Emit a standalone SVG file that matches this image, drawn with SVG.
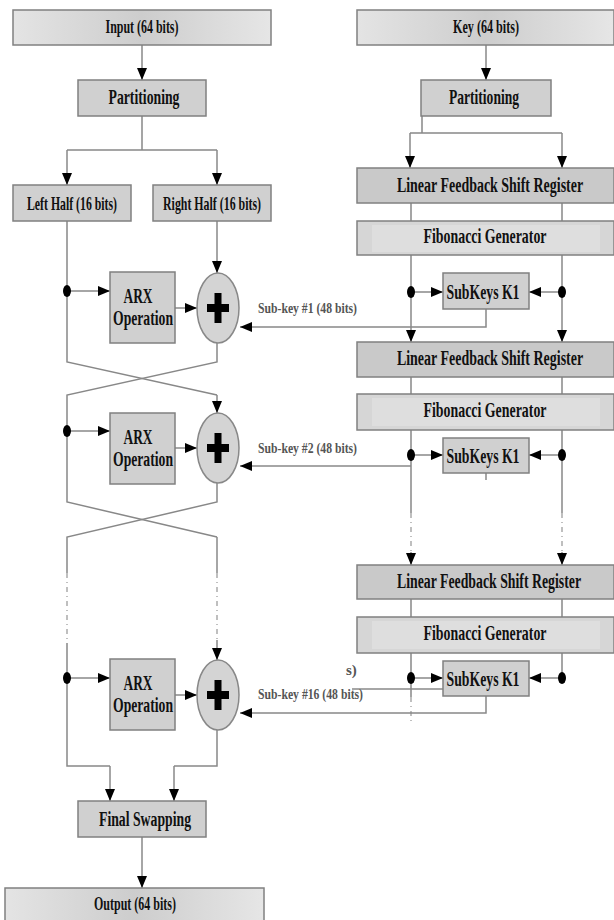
<svg xmlns="http://www.w3.org/2000/svg" width="614" height="920" viewBox="0 0 614 920">
<style>
.box{fill:#d0d0d0;stroke:#808080;stroke-width:1.5}
.lfsr{fill:#c9c9c9;stroke:#808080;stroke-width:1.5}
.fib{fill:#d6d6d6;stroke:#808080;stroke-width:1.5}
.fibin{fill:#dedede;stroke:none}
.io{fill:url(#g);stroke:#808080;stroke-width:1.5}
.t{font-family:"Liberation Serif","Times New Roman",serif;font-weight:bold;fill:#111;text-anchor:middle}
.lab{font-family:"Liberation Serif","Times New Roman",serif;font-weight:bold;fill:#555;font-size:15px}
.ln{fill:none;stroke:#888;stroke-width:1.5}
.ar{fill:none;stroke:#888;stroke-width:1.5;marker-end:url(#a)}
.dash{fill:none;stroke:#aaa;stroke-width:1.5;stroke-dasharray:5 4 1 4}
.dot{fill:#000}
.xor{fill:#d4d4d4;stroke:#888;stroke-width:1.5}
.plus{fill:#000}
</style>
<defs>
<linearGradient id="g" x1="0" y1="0" x2="1" y2="0">
<stop offset="0" stop-color="#e4e4e4"/>
<stop offset="0.5" stop-color="#cdcdcd"/>
<stop offset="1" stop-color="#e6e6e6"/>
</linearGradient>
<marker id="a" viewBox="0 0 12 10" refX="12" refY="5" markerWidth="12" markerHeight="10" markerUnits="userSpaceOnUse" orient="auto">
<path d="M0,0 L12,5 L0,10 z" fill="#000"/>
</marker>
</defs>

<g id="connectors">
<path class="ar" d="M142,45 V80"/>
<path class="ln" d="M142,116 V150 M67,150 H217"/>
<path class="ar" d="M67,150 V185"/>
<path class="ar" d="M217,150 V185"/>
<path class="ln" d="M67,221 V362 L217,395"/>
<path class="ar" d="M217,221 V273"/>
<path class="ar" d="M67,291 H110"/>
<path class="ar" d="M175,308 H197"/>
<path class="ln" d="M217,343 V362 L67,395 V502 L217,537"/>
<path class="ar" d="M217,395 V413"/>
<path class="ar" d="M67,431 H110"/>
<path class="ar" d="M175,448 H197"/>
<path class="ln" d="M217,483 V502 L67,537 V573"/>
<path class="ln" d="M217,537 V573"/>
<path class="dash" d="M67,573 V643"/>
<path class="dash" d="M217,573 V640"/>
<path class="ln" d="M67,643 V766 H110"/>
<path class="ar" d="M110,766 V801"/>
<path class="ar" d="M217,640 V660"/>
<path class="ar" d="M67,678 H110"/>
<path class="ar" d="M175,695 H197"/>
<path class="ln" d="M217,730 V766 H174"/>
<path class="ar" d="M174,766 V801"/>
<path class="ar" d="M142,837 V888"/>
<path class="ar" d="M486,45 V80"/>
<path class="ln" d="M422,116 V133 M410,133 H562"/>
<path class="ar" d="M410,133 V168"/>
<path class="ar" d="M562,133 V168"/>
<path class="ln" d="M411,203 V221 M562,203 V221"/>
<path class="ar" d="M411,255 V342"/>
<path class="ar" d="M562,255 V342"/>
<path class="ar" d="M411,292 H443"/>
<path class="ar" d="M562,292 H529"/>
<path class="ar" d="M486,309 V327 H240"/>
<path class="ln" d="M411,377 V394 M562,377 V394"/>
<path class="ln" d="M411,430 V513 M562,430 V513"/>
<path class="dash" d="M411,513 V552 M562,513 V552"/>
<path class="ar" d="M411,552 V565"/>
<path class="ar" d="M562,552 V565"/>
<path class="ar" d="M411,455 H443"/>
<path class="ar" d="M562,455 H529"/>
<path class="ar" d="M411,466 H240"/>
<path class="ln" d="M486,473 V480"/>
<path class="ln" d="M411,599 V617 M562,599 V617"/>
<path class="ln" d="M411,653 V697 M562,653 V678"/>
<path class="dash" d="M411,697 V724"/>
<path class="ar" d="M411,678 H443"/>
<path class="ar" d="M562,678 H529"/>
<path class="ln" d="M443,689 H352"/>
<path class="ar" d="M486,696 V713 H240"/>
</g>

<g id="input"><rect class="io" x="13" y="10" width="258" height="35"/><text class="t" x="142" y="33" font-size="19" textLength="73" lengthAdjust="spacingAndGlyphs">Input (64 bits)</text></g>
<g id="partition-l"><rect class="box" x="78" y="80" width="128" height="36"/><text class="t" x="144" y="104" font-size="22" textLength="71" lengthAdjust="spacingAndGlyphs">Partitioning</text></g>
<g id="left-half"><rect class="box" x="13" y="185" width="118" height="36"/><text class="t" x="72" y="210" font-size="19" textLength="90" lengthAdjust="spacingAndGlyphs">Left Half (16 bits)</text></g>
<g id="right-half"><rect class="box" x="153" y="185" width="118" height="36"/><text class="t" x="212" y="210" font-size="19" textLength="98" lengthAdjust="spacingAndGlyphs">Right Half (16 bits)</text></g>

<g id="dots">
<ellipse class="dot" cx="67" cy="291" rx="4" ry="6"/>
<ellipse class="dot" cx="67" cy="431" rx="4" ry="6"/>
<ellipse class="dot" cx="67" cy="678" rx="4" ry="6"/>
<ellipse class="dot" cx="411" cy="292" rx="4" ry="6"/>
<ellipse class="dot" cx="562" cy="292" rx="4" ry="6"/>
<ellipse class="dot" cx="411" cy="455" rx="4" ry="6"/>
<ellipse class="dot" cx="562" cy="455" rx="4" ry="6"/>
<ellipse class="dot" cx="411" cy="678" rx="4" ry="6"/>
<ellipse class="dot" cx="562" cy="678" rx="4" ry="6"/>
</g>

<g id="arx1"><rect class="box" x="110" y="272" width="65" height="71"/><text class="t" x="138" y="303" font-size="20" textLength="29" lengthAdjust="spacingAndGlyphs">ARX</text><text class="t" x="143" y="325" font-size="20" textLength="60" lengthAdjust="spacingAndGlyphs">Operation</text></g>
<g id="xor1"><ellipse class="xor" cx="218" cy="308" rx="21" ry="35"/><rect class="plus" x="207" y="304" width="22" height="8"/><rect class="plus" x="214.5" y="293" width="7" height="30"/></g>
<g id="arx2"><rect class="box" x="110" y="413" width="65" height="71"/><text class="t" x="138" y="444" font-size="20" textLength="29" lengthAdjust="spacingAndGlyphs">ARX</text><text class="t" x="143" y="466" font-size="20" textLength="60" lengthAdjust="spacingAndGlyphs">Operation</text></g>
<g id="xor2"><ellipse class="xor" cx="218" cy="448" rx="21" ry="35"/><rect class="plus" x="207" y="444" width="22" height="8"/><rect class="plus" x="214.5" y="433" width="7" height="30"/></g>
<g id="arx3"><rect class="box" x="110" y="659" width="65" height="71"/><text class="t" x="138" y="690" font-size="20" textLength="29" lengthAdjust="spacingAndGlyphs">ARX</text><text class="t" x="143" y="712" font-size="20" textLength="60" lengthAdjust="spacingAndGlyphs">Operation</text></g>
<g id="xor3"><ellipse class="xor" cx="218" cy="695" rx="21" ry="35"/><rect class="plus" x="207" y="691" width="22" height="8"/><rect class="plus" x="214.5" y="680" width="7" height="30"/></g>

<g id="final-swap"><rect class="box" x="78" y="801" width="128" height="36"/><text class="t" x="145" y="826" font-size="20" textLength="92" lengthAdjust="spacingAndGlyphs">Final Swapping</text></g>
<g id="output"><rect class="io" x="5" y="888" width="259" height="40"/><text class="t" x="135" y="910" font-size="18" textLength="82" lengthAdjust="spacingAndGlyphs">Output (64 bits)</text></g>

<g id="key"><rect class="io" x="357" y="10" width="257" height="35"/><text class="t" x="486" y="33" font-size="19" textLength="66" lengthAdjust="spacingAndGlyphs">Key (64 bits)</text></g>
<g id="partition-r"><rect class="box" x="421" y="80" width="130" height="36"/><text class="t" x="484" y="104" font-size="22" textLength="70" lengthAdjust="spacingAndGlyphs">Partitioning</text></g>

<g id="lfsr1"><rect class="lfsr" x="357" y="168" width="257" height="35"/><text class="t" transform="translate(490,192) scale(0.7,1)" x="0" y="0" font-size="21" textLength="266" lengthAdjust="spacingAndGlyphs">Linear Feedback Shift Register</text></g>
<g id="fib1"><rect class="fib" x="357" y="221" width="257" height="34"/><rect class="fibin" x="372" y="225" width="228" height="27"/><text class="t" x="485" y="243" font-size="21" textLength="123" lengthAdjust="spacingAndGlyphs">Fibonacci Generator</text></g>
<g id="subkeys1"><rect class="box" x="443" y="273" width="86" height="36"/><text class="t" x="483" y="299" font-size="20" textLength="73" lengthAdjust="spacingAndGlyphs">SubKeys K1</text></g>

<g id="lfsr2"><rect class="lfsr" x="357" y="342" width="257" height="35"/><text class="t" transform="translate(490,365) scale(0.7,1)" x="0" y="0" font-size="21" textLength="266" lengthAdjust="spacingAndGlyphs">Linear Feedback Shift Register</text></g>
<g id="fib2"><rect class="fib" x="357" y="394" width="257" height="36"/><rect class="fibin" x="372" y="398" width="228" height="28"/><text class="t" x="485" y="417" font-size="21" textLength="123" lengthAdjust="spacingAndGlyphs">Fibonacci Generator</text></g>
<g id="subkeys2"><rect class="box" x="443" y="438" width="86" height="35"/><text class="t" x="483" y="463" font-size="20" textLength="73" lengthAdjust="spacingAndGlyphs">SubKeys K1</text></g>

<g id="lfsr3"><rect class="lfsr" x="357" y="565" width="257" height="34"/><text class="t" transform="translate(489,588) scale(0.7,1)" x="0" y="0" font-size="21" textLength="263" lengthAdjust="spacingAndGlyphs">Linear Feedback Shift Register</text></g>
<g id="fib3"><rect class="fib" x="357" y="617" width="257" height="36"/><rect class="fibin" x="372" y="621" width="228" height="28"/><text class="t" x="485" y="640" font-size="21" textLength="123" lengthAdjust="spacingAndGlyphs">Fibonacci Generator</text></g>
<g id="subkeys3"><rect class="box" x="443" y="661" width="86" height="35"/><text class="t" x="483" y="686" font-size="20" textLength="73" lengthAdjust="spacingAndGlyphs">SubKeys K1</text></g>

<g id="labels">
<text class="lab" x="258" y="313" textLength="99" lengthAdjust="spacingAndGlyphs">Sub-key #1 (48 bits)</text>
<text class="lab" x="258" y="453" textLength="99" lengthAdjust="spacingAndGlyphs">Sub-key #2 (48 bits)</text>
<text class="lab" x="346" y="675" font-size="12">s)</text>
<text class="lab" x="258" y="699" textLength="105" lengthAdjust="spacingAndGlyphs">Sub-key #16 (48 bits)</text>
</g>
</svg>
